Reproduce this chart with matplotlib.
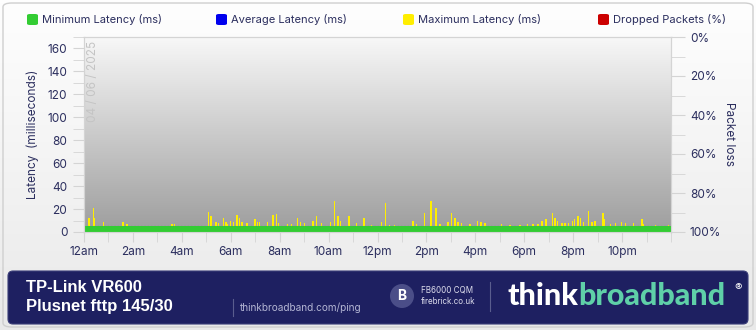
import numpy as np
import matplotlib
matplotlib.use("Agg")
import matplotlib.pyplot as plt
from matplotlib.patches import FancyBboxPatch, Circle

plt.rcParams['font.family'] = ['Inter', 'DejaVu Sans']

NAVY = "#2b2e5e"
GRID = "#d4d4d4"

# data
tick_hours = [0, 2, 4, 6, 8, 10, 12, 14, 16, 18, 20, 22]
tick_labels = ["12am", "2am", "4am", "6am", "8am", "10am", "12pm",
               "2pm", "4pm", "6pm", "8pm", "10pm"]

min_hours = [0, 24]
min_ms = [5, 5]

avg_hours = [0, 24]
avg_ms = [5.4, 5.4]

spike_hours = [0.03, 0.20, 0.38, 0.44, 0.79, 1.60, 1.75, 3.59, 3.69, 5.09,
               5.20, 5.40, 5.49, 5.70, 5.81, 5.87, 5.98, 6.12, 6.26, 6.35,
               6.46, 6.67, 7.00, 7.10, 7.17, 7.51, 7.72, 7.86, 7.96, 8.32,
               8.48, 8.74, 8.85, 9.02, 9.36, 9.50, 9.70, 10.08, 10.25, 10.38,
               10.49, 10.83, 11.14, 11.45, 11.75, 12.16, 12.32, 12.50, 12.70,
               13.45, 13.59, 13.93, 14.18, 14.39, 14.55, 14.88, 15.03, 15.16,
               15.30, 15.44, 15.78, 16.08, 16.23, 16.39, 17.08, 17.42, 17.83,
               18.14, 18.36, 18.57, 18.72, 18.89, 19.15, 19.26, 19.37, 19.54,
               19.67, 19.81, 19.97, 20.05, 20.19, 20.29, 20.42, 20.63, 20.77,
               20.90, 21.22, 21.28, 21.52, 21.72, 21.97, 22.13, 22.47, 22.82,
               22.88, 23.36, 23.89]
spike_ms = [9.6, 12.5, 21, 12.5, 9, 9, 7, 7, 7, 17.7,
            14, 9, 8, 12, 9, 7, 10, 9, 14.8, 12,
            9, 8, 11, 9, 9, 9, 14.8, 15.5, 8, 7,
            7, 12, 9, 8, 10, 14, 8, 9, 27, 14,
            10, 14, 8, 12, 6.5, 9, 25.6, 6.5, 6.5,
            10, 7, 17, 27, 21, 7, 9, 17, 12,
            9, 8, 7, 10, 9, 8, 7, 6.5, 6.5,
            7, 7, 7, 10, 11, 17, 12, 10, 7.5,
            7.5, 8, 10, 11, 14, 12, 9, 18.3, 9,
            10, 17, 11, 7, 8, 9, 8, 8, 11,
            7, 6.5, 6.5]

legend_items = [("Minimum Latency (ms)", "#33cc33"),
                ("Average Latency (ms)", "#0000ee"),
                ("Maximum Latency (ms)", "#ffee00"),
                ("Dropped Packets (%)", "#cc0000")]

W, H = 756, 330
fig = plt.figure(figsize=(W / 100, H / 100), dpi=100)

# card background
bg = fig.add_axes([0, 0, 1, 1], zorder=-10)
grad = np.linspace(0, 1, 100).reshape(-1, 1)
bg.imshow(grad, extent=[0, 1, 0, 1], aspect="auto", origin="lower",
          cmap=matplotlib.colors.LinearSegmentedColormap.from_list("c", ["#e9e9e9", "#fefefe"]))
bg.add_patch(FancyBboxPatch((3 / W, 3 / H), 750 / W, 324 / H,
                            boxstyle="round,pad=0,rounding_size=0.012",
                            fc="none", ec="#cfcfcf", lw=1, transform=bg.transAxes))
bg.set_xlim(0, 1)
bg.set_ylim(0, 1)
bg.axis("off")

# legend row
for (lab, col), px in zip(legend_items, [33, 222, 409, 604]):
    bg.add_patch(FancyBboxPatch(((px - 6) / W, 1 - 25 / H), 11 / W, 11 / H,
                                boxstyle="round,pad=0,rounding_size=0.004",
                                fc=col, ec="none"))
    bg.text((px + 9) / W, 1 - 19.5 / H, lab, fontsize=8, color=NAVY, va="center")

# main plot
ax = fig.add_axes([84 / W, 1 - 232 / H, 587 / W, 195 / H])
ymax = 170
ax.imshow(grad, extent=[0, 24, 0, ymax], aspect="auto", origin="lower",
          cmap=matplotlib.colors.LinearSegmentedColormap.from_list("g", ["#9e9e9e", "#f7f7f7"]),
          zorder=0)
ax.bar(spike_hours, spike_ms, width=0.06, color="#ffee00", zorder=2, linewidth=0)
ax.fill_between(min_hours, 0, min_ms, color="#33cc33", zorder=4, linewidth=0)
ax.plot(avg_hours, avg_ms, color="#2a3a9e", lw=0.8, ls=(0, (1, 2)), zorder=3)
ax.set_xlim(0, 24)
ax.set_ylim(0, ymax)

ax.set_xticks(tick_hours)
ax.set_xticklabels(tick_labels)
ax.set_xticks(range(0, 25), minor=True)
ax.set_yticks(range(0, 161, 20))
ax.set_yticks(range(0, 171, 10), minor=True)
ax.tick_params(axis="both", which="both", colors=GRID, labelcolor=NAVY, labelsize=8.5)
ax.tick_params(axis="y", which="both", length=8, pad=4)
ax.tick_params(axis="x", which="both", length=7, pad=3)
for s in ax.spines.values():
    s.set_color(GRID)
ax.set_ylabel("Latency  (milliseconds)", color=NAVY, fontsize=8.5, labelpad=6)

ax.text(0.35, ymax - 3, "04 / 06 / 2025", rotation=90, color="#c4c4c4",
        fontsize=8.5, ha="center", va="top", zorder=5)

ax2 = ax.twinx()
ax2.set_ylim(100, 0)
ax2.set_yticks(range(0, 101, 20))
ax2.set_yticklabels([f"{v}%" for v in range(0, 101, 20)])
ax2.set_yticks(range(0, 101, 10), minor=True)
ax2.tick_params(axis="y", which="both", colors=GRID, labelcolor=NAVY, labelsize=8.5, length=10)
for s in ax2.spines.values():
    s.set_color(GRID)
ax2.set_ylabel("Packet loss", color=NAVY, fontsize=8.5, rotation=-90, labelpad=10)

# footer band
ft = fig.add_axes([0, 0, 1, 1], zorder=10)
ft.set_xlim(0, W)
ft.set_ylim(H, 0)
ft.axis("off")
ft.add_patch(FancyBboxPatch((8, 271), 740, 53, boxstyle="round,pad=0,rounding_size=5",
                            fc="#1e2061", ec="#3a3d78", lw=0.8))
ft.text(26, 287, "TP-Link VR600", color="white", fontsize=12, fontweight="bold",
        family="Liberation Sans", va="center")
ft.text(26, 306, "Plusnet fttp 145/30", color="white", fontsize=12, fontweight="bold",
        family="Liberation Sans", va="center")
ft.plot([233, 233], [299, 316], color="#5a5d8e", lw=0.8)
ft.text(240, 308, "thinkbroadband.com/ping", color="#b4b6d4", fontsize=7.2, va="center")
ft.add_patch(Circle((402, 296), 12, fc="#4b4e88", ec="none"))
ft.text(402, 296.5, "B", color="white", fontsize=10, fontweight="bold", ha="center", va="center")
ft.text(421, 290, "FB6000 CQM", color="#dcdcec", fontsize=5.8, va="center")
ft.text(421, 302, "firebrick.co.uk", color="#dcdcec", fontsize=5.8, va="center")
ft.plot([490, 490], [282, 311], color="#5a5d8e", lw=0.8)
t1 = ft.text(507, 296, "think", color="white", fontsize=22, fontweight="black",
             family="Lato", va="center")
fig.canvas.draw()
bb = t1.get_window_extent()
x2 = ft.transData.inverted().transform((bb.x1, bb.y0))[0]
ft.text(x2, 296, "broadband", color="#5fd0a8", fontsize=22, fontweight="black",
        family="Lato", va="center")
ft.text(734, 288, "®", color="white", fontsize=8, va="center")

fig.savefig("out.png", dpi=100)
